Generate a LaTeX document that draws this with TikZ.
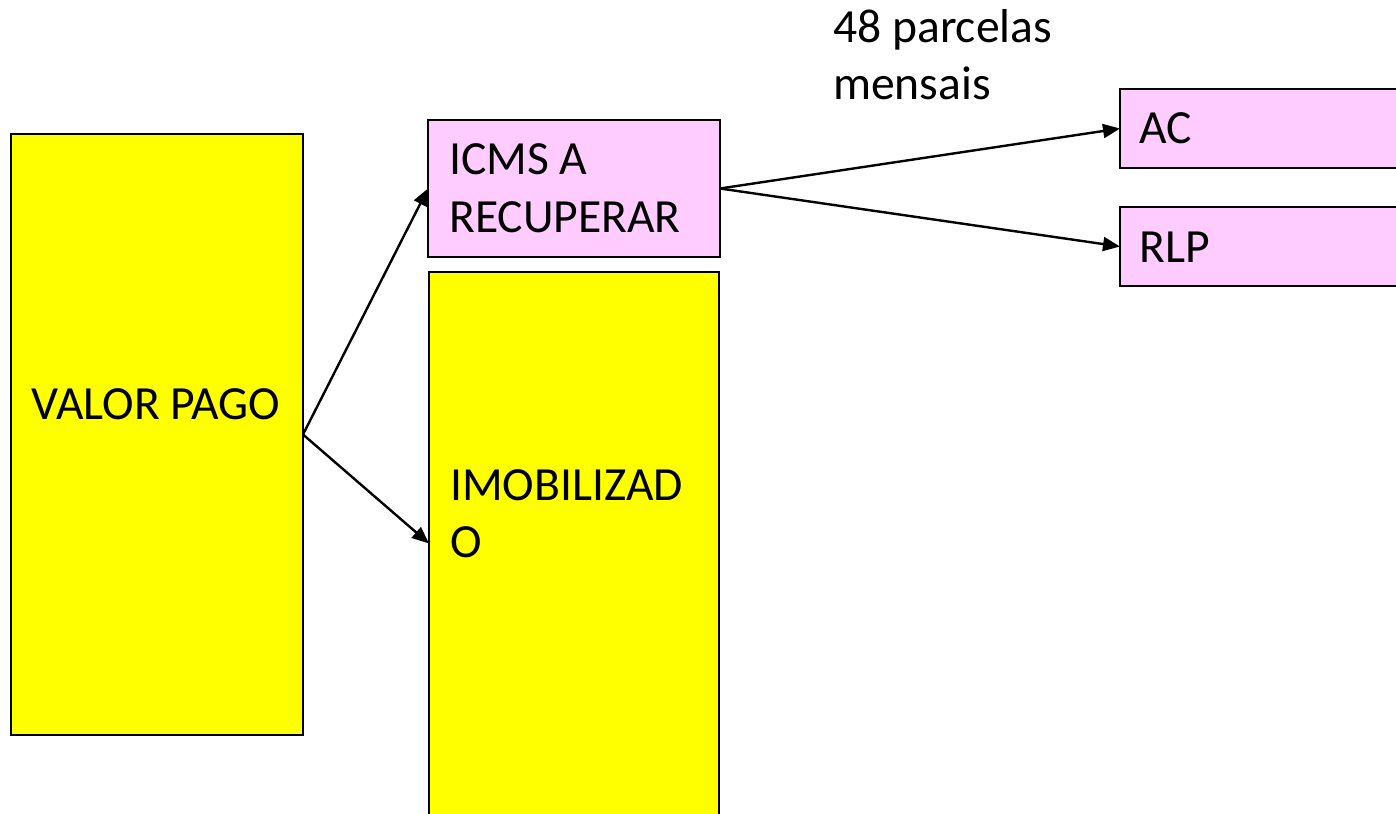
\documentclass[tikz,border=0pt]{standalone}
\usepackage{fontspec}
\setmainfont{Carlito}
\usetikzlibrary{arrows.meta}
\definecolor{boxyellow}{HTML}{FFFF00}
\definecolor{boxpink}{HTML}{FFCCFF}
\tikzset{
  ybox/.style={draw=black, line width=1.6pt, fill=boxyellow, inner sep=0pt, outer sep=0pt},
  pbox/.style={draw=black, line width=1.6pt, fill=boxpink, inner sep=0pt, outer sep=0pt},
  lbl/.style={anchor=base west, inner sep=0pt, font=\fontsize{47.6}{57}\selectfont},
  conn/.style={line width=2.4pt, -{Triangle[length=17pt,width=14pt]}}
}
\begin{document}
\begin{tikzpicture}[x=1pt,y=-1pt]
\useasboundingbox (0,0) rectangle (1396,813);
\clip (0,0) rectangle (1396,813);
\node[ybox, minimum width=292pt, minimum height=601pt] (vp) at (157,434.5) {};
\node[pbox, minimum width=292pt, minimum height=137pt] (icms) at (574,188.5) {};
\node[ybox, minimum width=290pt, minimum height=543pt] (imob) at (574,543.5) {};
\node[pbox, minimum width=290pt, minimum height=79pt] (ac) at (1265,128.5) {};
\node[pbox, minimum width=290pt, minimum height=79pt] (rlp) at (1265,246.5) {};
\node[lbl] (tvp) at (31,419) {VALOR PAGO};
\node[lbl] (ticms1) at (449,175) {ICMS A};
\node[lbl] (ticms2) at (449,232) {RECUPERAR};
\node[lbl] (timob1) at (450,500) {IMOBILIZAD};
\node[lbl] (timob2) at (450,557) {O};
\node[lbl] (tac) at (1139,144) {AC};
\node[lbl] (trlp) at (1139,262) {RLP};
\node[lbl] (tp1) at (833,43) {48 parcelas};
\node[lbl] (tp2) at (833,100) {mensais};
\draw[conn] (vp.east) -- (icms.west);
\draw[conn] (vp.east) -- (imob.west);
\draw[conn] (icms.east) -- (ac.west);
\draw[conn] (icms.east) -- (rlp.west);
\end{tikzpicture}
\end{document}
